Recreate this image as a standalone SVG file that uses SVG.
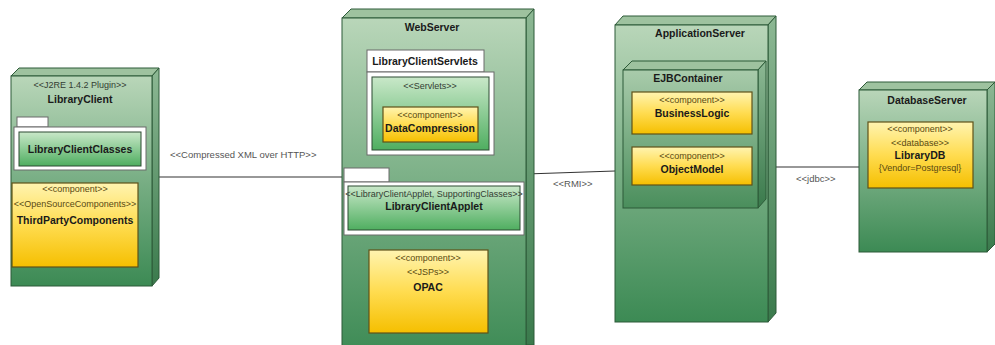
<svg xmlns="http://www.w3.org/2000/svg" width="995" height="345" viewBox="0 0 995 345">
<defs>
<linearGradient id="gNode" x1="0" y1="0" x2="0" y2="1">
<stop offset="0" stop-color="#b9d6b9"/><stop offset="0.5" stop-color="#78ae84"/><stop offset="1" stop-color="#3c8a54"/>
</linearGradient>
<linearGradient id="gSide" x1="0" y1="0" x2="0" y2="1">
<stop offset="0" stop-color="#8db894"/><stop offset="1" stop-color="#3a7a4c"/>
</linearGradient>
<linearGradient id="gInner" x1="0" y1="0" x2="0" y2="1">
<stop offset="0" stop-color="#a9cbab"/><stop offset="1" stop-color="#4a8e5c"/>
</linearGradient>
<linearGradient id="gPkg" x1="0" y1="0" x2="0" y2="1">
<stop offset="0" stop-color="#c9e8c9"/><stop offset="1" stop-color="#4fae60"/>
</linearGradient>
<linearGradient id="gYel" x1="0" y1="0" x2="0" y2="1">
<stop offset="0" stop-color="#fff4b0"/><stop offset="0.5" stop-color="#ffdc50"/><stop offset="1" stop-color="#f5bf00"/>
</linearGradient>
</defs>
<style>
.front{fill:url(#gNode);stroke:#2d5a38;stroke-width:1}
.ifront{fill:url(#gInner);stroke:#2d5a38;stroke-width:1}
.top{fill:#9ec29f;stroke:#2d5a38;stroke-width:1}
.side{fill:url(#gSide);stroke:#2d5a38;stroke-width:1}
.frame{fill:#ffffff;stroke:#6a6a6a;stroke-width:1}
.pkg{fill:url(#gPkg);stroke:#2d4a33;stroke-width:1}
.yel{fill:url(#gYel);stroke:#5f5218;stroke-width:1.2}
.st{font-family:"Liberation Sans",Arial,sans-serif;font-size:9px;fill:#333d33;text-anchor:middle}
.sty{font-family:"Liberation Sans",Arial,sans-serif;font-size:9px;fill:#5a4a12;text-anchor:middle}
.nm{font-family:"Liberation Sans",Arial,sans-serif;font-size:10.5px;font-weight:bold;fill:#1a1a1a;text-anchor:middle}
.lbl{font-family:"Liberation Sans",Arial,sans-serif;font-size:9.5px;fill:#555;text-anchor:start}
.conn{stroke:#333;stroke-width:1.2;fill:none}
</style>
<rect width="995" height="345" fill="#ffffff"/>

<g id="connectors">
<line class="conn" x1="152" y1="177" x2="342" y2="177"/>
<line class="conn" x1="526" y1="174" x2="615" y2="171"/>
<line class="conn" x1="768" y1="167" x2="859" y2="167"/>
<text class="lbl" x="170" y="158">&lt;&lt;Compressed XML over HTTP&gt;&gt;</text>
<text class="lbl" x="553" y="187">&lt;&lt;RMI&gt;&gt;</text>
<text class="lbl" x="796" y="182">&lt;&lt;jdbc&gt;&gt;</text>
</g>

<g id="LibraryClient">
<polygon class="top" points="11,76 19,68 159,68 152,76"/>
<polygon class="side" points="152,76 159,68 159,278 152,286"/>
<rect class="front" x="11" y="76" width="141" height="210"/>
<text class="st" x="80" y="88">&lt;&lt;J2RE 1.4.2 Plugin&gt;&gt;</text>
<text class="nm" x="80" y="103">LibraryClient</text>
<g id="LibraryClientClasses">
<rect class="frame" x="17" y="117" width="31" height="10"/>
<rect class="frame" x="14" y="127" width="132" height="43"/>
<rect class="pkg" x="19" y="132" width="122" height="34"/>
<text class="nm" x="80" y="153">LibraryClientClasses</text>
</g>
<g id="ThirdPartyComponents">
<rect class="yel" x="12" y="183" width="126" height="84"/>
<text class="sty" x="75" y="192">&lt;&lt;component&gt;&gt;</text>
<text class="sty" x="75" y="207">&lt;&lt;OpenSourceComponents&gt;&gt;</text>
<text class="nm" x="75" y="224">ThirdPartyComponents</text>
</g>
</g>

<g id="WebServer">
<polygon class="top" points="342,18 351,9 534,9 526,18"/>
<polygon class="side" points="526,18 534,9 534,345 526,345"/>
<rect class="front" x="342" y="18" width="184" height="340"/>
<text class="nm" x="432" y="31">WebServer</text>
<g id="LibraryClientServlets">
<rect class="frame" x="367" y="50" width="117" height="22"/>
<text class="nm" x="425" y="65">LibraryClientServlets</text>
<rect class="frame" x="367" y="72" width="127" height="83"/>
<rect class="pkg" x="372" y="77" width="117" height="73"/>
<text class="st" x="430" y="89">&lt;&lt;Servlets&gt;&gt;</text>
<g id="DataCompression">
<rect class="yel" x="383" y="107" width="95" height="35"/>
<text class="sty" x="430" y="118">&lt;&lt;component&gt;&gt;</text>
<text class="nm" x="430" y="132">DataCompression</text>
</g>
</g>
<g id="LibraryClientApplet">
<rect class="frame" x="344" y="168" width="45" height="14"/>
<rect class="frame" x="344" y="182" width="180" height="53"/>
<rect class="pkg" x="348" y="186" width="172" height="44"/>
<text class="st" x="434" y="197">&lt;&lt;LibraryClientApplet, SupportingClasses&gt;&gt;</text>
<text class="nm" x="434" y="210">LibraryClientApplet</text>
</g>
<g id="OPAC">
<rect class="yel" x="369" y="250" width="119" height="83"/>
<text class="sty" x="428" y="261">&lt;&lt;component&gt;&gt;</text>
<text class="sty" x="428" y="275">&lt;&lt;JSPs&gt;&gt;</text>
<text class="nm" x="428" y="291">OPAC</text>
</g>
</g>

<g id="ApplicationServer">
<polygon class="top" points="615,25 623,16 776,16 768,25"/>
<polygon class="side" points="768,25 776,16 776,313 768,322"/>
<rect class="front" x="615" y="25" width="153" height="297"/>
<text class="nm" x="700" y="37">ApplicationServer</text>
<g id="EJBContainer">
<polygon class="top" points="623,70 632,61 766,61 758,70"/>
<polygon class="side" points="758,70 766,61 766,199 758,208"/>
<rect class="ifront" x="623" y="70" width="135" height="138"/>
<text class="nm" x="688" y="82">EJBContainer</text>
<g id="BusinessLogic">
<rect class="yel" x="632" y="92" width="120" height="42"/>
<text class="sty" x="692" y="103">&lt;&lt;component&gt;&gt;</text>
<text class="nm" x="692" y="117">BusinessLogic</text>
</g>
<g id="ObjectModel">
<rect class="yel" x="632" y="147" width="120" height="38"/>
<text class="sty" x="692" y="159">&lt;&lt;component&gt;&gt;</text>
<text class="nm" x="692" y="173">ObjectModel</text>
</g>
</g>
</g>

<g id="DatabaseServer">
<polygon class="top" points="859,90 867,82 995,82 987,90"/>
<polygon class="side" points="987,90 995,82 995,244 987,252"/>
<rect class="front" x="859" y="90" width="128" height="162"/>
<text class="nm" x="927" y="104">DatabaseServer</text>
<g id="LibraryDB">
<rect class="yel" x="868" y="122" width="105" height="66"/>
<text class="sty" x="920" y="132">&lt;&lt;component&gt;&gt;</text>
<text class="sty" x="920" y="146">&lt;&lt;database&gt;&gt;</text>
<text class="nm" x="920" y="159">LibraryDB</text>
<text class="sty" x="920" y="171">{Vendor=Postgresql}</text>
</g>
</g>
</svg>
